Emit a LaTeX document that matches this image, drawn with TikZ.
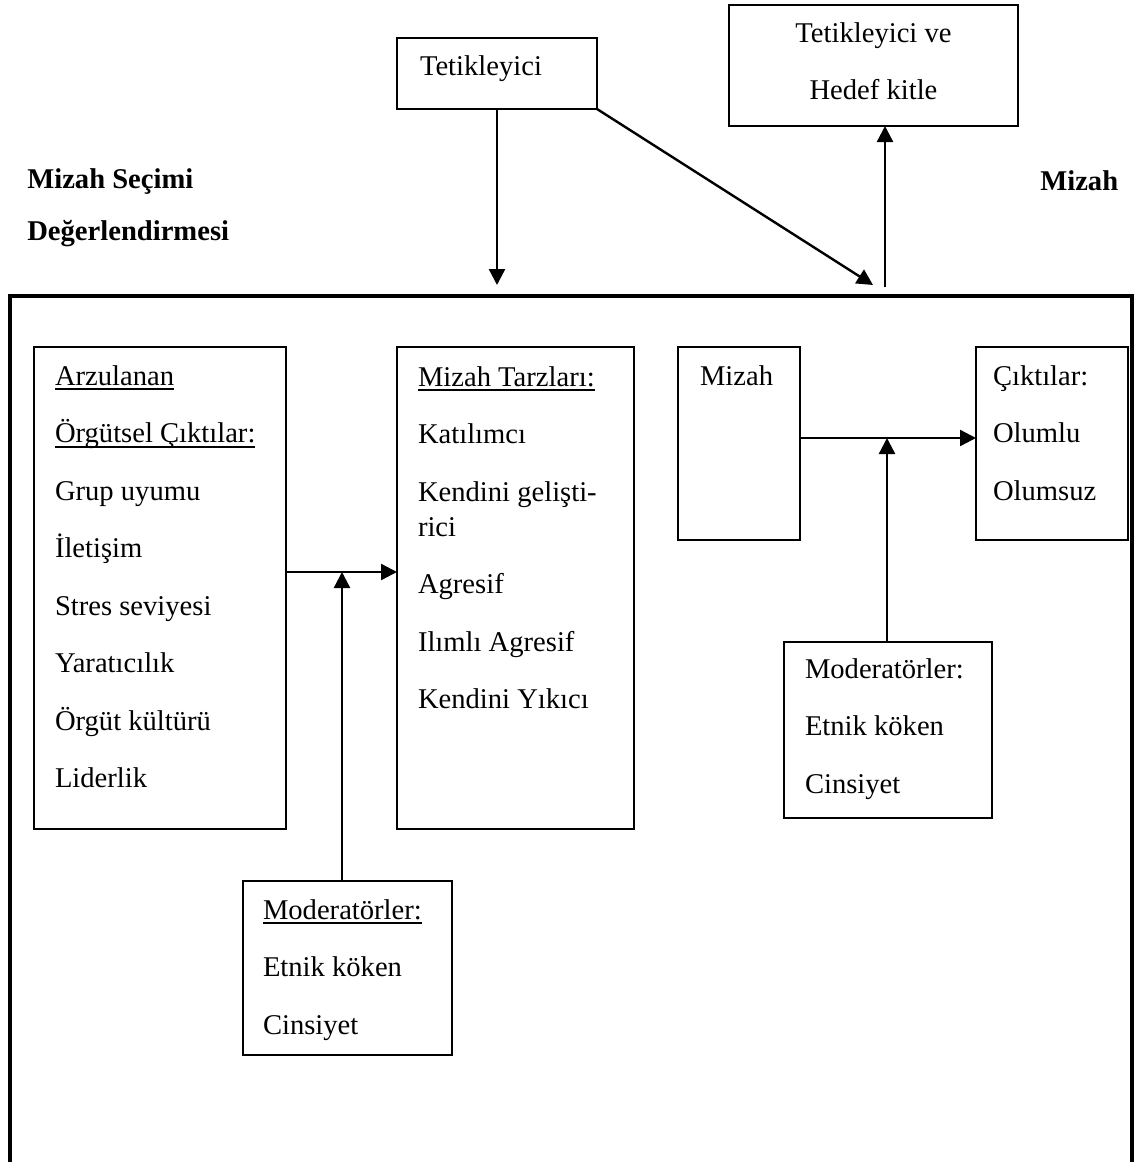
\documentclass[tikz,border=0pt]{standalone}
\usepackage{fontspec}
\setmainfont{Liberation Serif}
\usepackage{tikz}
\usetikzlibrary{arrows.meta}
\usetikzlibrary{calc}
\newcommand{\undline}[1]{\leavevmode{\setbox0\hbox{#1}\rlap{\rule[-5pt]{\wd0}{1.8pt}}\box0}}

\begin{document}
\begin{tikzpicture}[
    x=1pt, y=-1pt,
    >={Triangle[length=16pt, width=16pt]},
    every node/.style={font=\fontsize{28.6}{57.5}\selectfont, inner ysep=0pt, outer sep=0pt, anchor=north west},
    model box/.style={draw, line width=2pt},
    flow line/.style={->, line width=2.4pt},
    frame line/.style={line width=3.2pt}
    ]
    \useasboundingbox (0,0) rectangle (1136,1162);

    % top boxes
    \node[model box, inner xsep=23pt, text height=37pt, text depth=34pt] (tetik) at (397,38) {\parbox[t]{154pt}{Tetikleyici}};
    \node[model box, inner xsep=0pt, text height=37pt, text depth=84pt] (hedef) at (729,5) {\parbox[t]{289pt}{\centering Tetikleyici ve\\Hedef kitle}};
    % side labels
    \node[anchor=base west] (secim) at (24,188) {\parbox[t]{300pt}{\bfseries\baselineskip=52pt Mizah Seçimi\\Değerlendirmesi}};
    \node[anchor=base west] (mizahR) at (1037,190) {\bfseries Mizah};
    % frame
    \draw[frame line] (10,1162) -- (10,296) -- (1132,296) -- (1132,1162);
    % inner boxes
    \node[model box, inner xsep=21pt, text height=38pt, text depth=444pt] (arzu) at (34,347) {\parbox[t]{210pt}{\undline{Arzulanan}\\\undline{Örgütsel Çıktılar:}\\Grup uyumu\\İletişim\\Stres seviyesi\\Yaratıcılık\\Örgüt kültürü\\Liderlik}};
    \node[model box, inner xsep=21pt, text height=39pt, text depth=443pt] (tarz) at (397,347) {\parbox[t]{195pt}{\undline{Mizah Tarzları:}\\Katılımcı\\Kendini gelişti-\\[-22.5pt]rici\\Agresif\\Ilımlı Agresif\\Kendini Yıkıcı}};
    \node[model box, inner xsep=22pt, text height=38pt, text depth=155pt] (mizah) at (678,347) {\parbox[t]{78pt}{Mizah}};
    \node[model box, inner xsep=17pt, text height=38pt, text depth=155pt] (cikti) at (976,347) {\parbox[t]{118pt}{Çıktılar:\\Olumlu\\Olumsuz}};
    \node[model box, inner xsep=21pt, text height=36pt, text depth=140pt] (modR) at (784,642) {\parbox[t]{166pt}{Moderatörler:\\Etnik köken\\Cinsiyet}};
    \node[model box, inner xsep=20pt, text height=38pt, text depth=136pt] (modL) at (243,881) {\parbox[t]{169pt}{\undline{Moderatörler:}\\Etnik köken\\Cinsiyet}};

    % arrow ends
    \coordinate (inA) at (497,285);
    \coordinate (inB) at (873,285);
    \coordinate (outC) at (885,287);
    \coordinate (j1) at (342,572);
    \coordinate (j2) at (887,438);
    % arrows
    \draw[flow line] (tetik.south) -- (inA);
    \draw[flow line] (tetik.south east) -- (inB);
    \draw[flow line] (outC) -- (outC |- hedef.south);
    \draw[flow line] (arzu.east |- j1) -- (tarz.west |- j1);
    \draw[flow line] (j1 |- modL.north) -- (j1);
    \draw[flow line] (mizah.east |- j2) -- (cikti.west |- j2);
    \draw[flow line] (j2 |- modR.north) -- (j2);

\end{tikzpicture}
\end{document}
